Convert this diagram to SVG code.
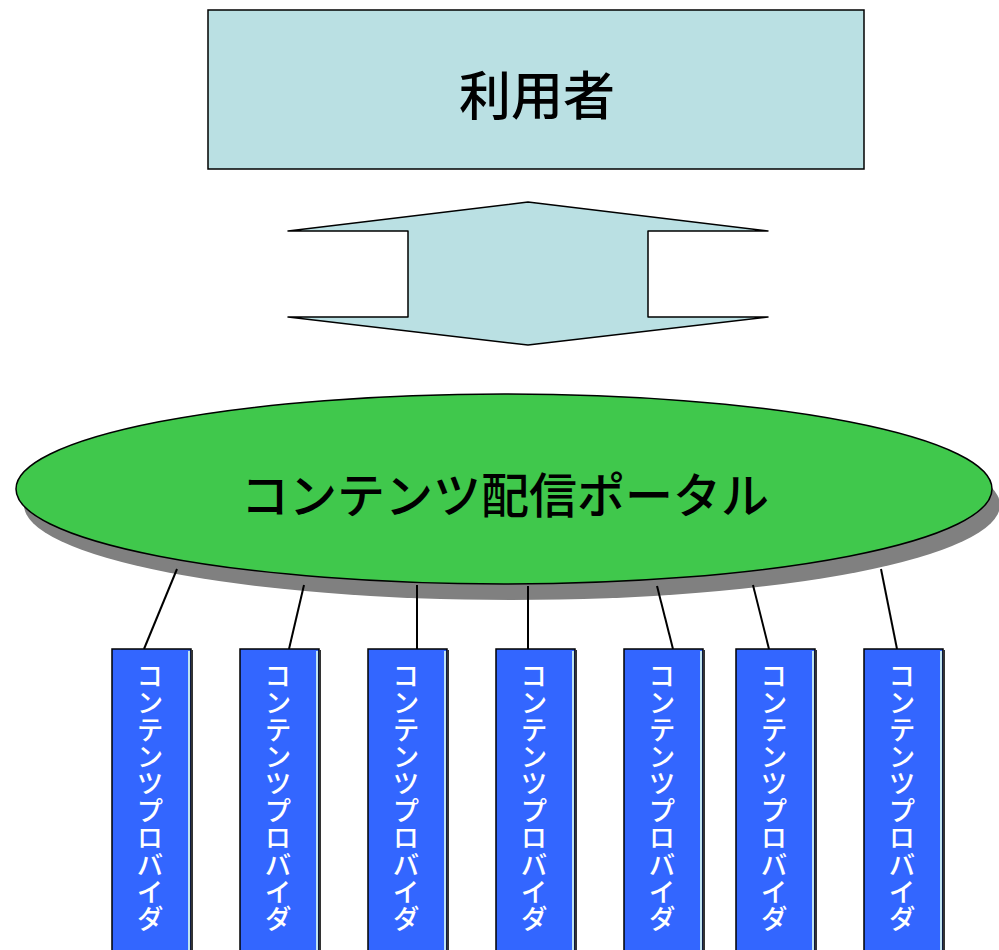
<svg xmlns="http://www.w3.org/2000/svg" width="999" height="950" viewBox="0 0 999 950">
<style>
.jp{font-family:"Noto Sans CJK JP","Noto Sans CJK SC",sans-serif;}
.big{font-size:52px;font-weight:500;fill:#000;text-anchor:middle;}
.mid{font-size:48px;font-weight:500;fill:#000;text-anchor:middle;}
.vt{font-size:27px;font-weight:500;fill:#fff;writing-mode:vertical-rl;}
.box{fill:#3366FF;stroke:#000;stroke-width:1.5;}
.hl{stroke:#BFE3F0;stroke-width:2;}
.sh{stroke:#333;stroke-width:2;}
.conn line{stroke:#000;stroke-width:2;}
</style>
<rect width="999" height="950" fill="#fff"/>
<g id="user">
<rect x="208" y="10" width="656" height="159" fill="#BAE0E3" stroke="#000" stroke-width="1.5"/>
<text class="jp big" x="537" y="115">利用者</text>
</g>
<g id="arrow">
<polygon points="528,202 768,231 648,231 648,317 768,317 528,345 288,317 408,317 408,231 288,231" fill="#BAE0E3" stroke="#000" stroke-width="1.5" stroke-linejoin="round"/>
</g>
<g id="portal">
<ellipse cx="512" cy="505" rx="488" ry="95" fill="#808080"/>
<ellipse cx="504" cy="489" rx="488" ry="95" fill="#40C84C" stroke="#000" stroke-width="1.5"/>
<text class="jp mid" x="505" y="513">コンテンツ配信ポータル</text>
</g>
<g class="conn" id="connectors">
<line x1="177" y1="569" x2="144" y2="649"/>
<line x1="304" y1="585" x2="289" y2="649"/>
<line x1="417" y1="585" x2="417" y2="649"/>
<line x1="528" y1="586" x2="528" y2="649"/>
<line x1="657" y1="586" x2="673" y2="649"/>
<line x1="753" y1="585" x2="769" y2="649"/>
<line x1="881" y1="569" x2="897" y2="649"/>
</g>
<g id="p1"><rect class="box" x="112" y="649" width="79" height="305"/><line class="hl" x1="189" y1="651" x2="189" y2="950"/><line class="sh" x1="192" y1="650" x2="192" y2="950"/><text class="jp vt" x="150" y="662">コンテンツプロバイダ</text></g>
<g id="p2"><rect class="box" x="240" y="649" width="79" height="305"/><line class="hl" x1="317" y1="651" x2="317" y2="950"/><line class="sh" x1="320" y1="650" x2="320" y2="950"/><text class="jp vt" x="278" y="662">コンテンツプロバイダ</text></g>
<g id="p3"><rect class="box" x="368" y="649" width="79" height="305"/><line class="hl" x1="445" y1="651" x2="445" y2="950"/><line class="sh" x1="448" y1="650" x2="448" y2="950"/><text class="jp vt" x="406" y="662">コンテンツプロバイダ</text></g>
<g id="p4"><rect class="box" x="496" y="649" width="79" height="305"/><line class="hl" x1="573" y1="651" x2="573" y2="950"/><line class="sh" x1="576" y1="650" x2="576" y2="950"/><text class="jp vt" x="534" y="662">コンテンツプロバイダ</text></g>
<g id="p5"><rect class="box" x="624" y="649" width="79" height="305"/><line class="hl" x1="701" y1="651" x2="701" y2="950"/><line class="sh" x1="704" y1="650" x2="704" y2="950"/><text class="jp vt" x="662" y="662">コンテンツプロバイダ</text></g>
<g id="p6"><rect class="box" x="736" y="649" width="79" height="305"/><line class="hl" x1="813" y1="651" x2="813" y2="950"/><line class="sh" x1="816" y1="650" x2="816" y2="950"/><text class="jp vt" x="774" y="662">コンテンツプロバイダ</text></g>
<g id="p7"><rect class="box" x="864" y="649" width="79" height="305"/><line class="hl" x1="941" y1="651" x2="941" y2="950"/><line class="sh" x1="944" y1="650" x2="944" y2="950"/><text class="jp vt" x="902" y="662">コンテンツプロバイダ</text></g>
</svg>
